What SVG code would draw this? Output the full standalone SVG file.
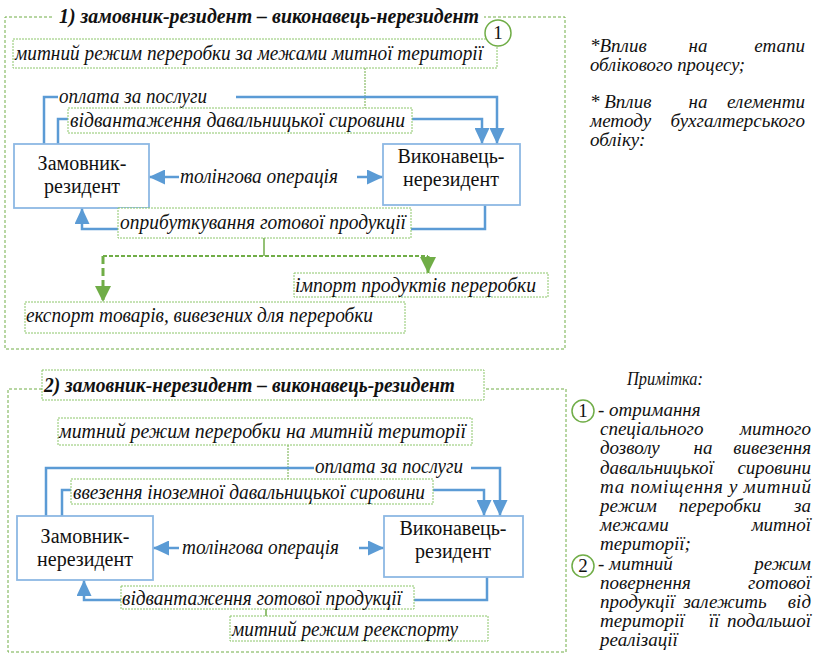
<svg xmlns="http://www.w3.org/2000/svg" width="813" height="654" viewBox="0 0 813 654" font-family="'Liberation Serif', 'DejaVu Serif', serif">
  <defs>
    <marker id="arr" viewBox="0 0 16 15" refX="16" refY="7.5" markerWidth="16" markerHeight="15" markerUnits="userSpaceOnUse" orient="auto">
      <path d="M0,0 L16,7.5 L0,15 Z" fill="#5B9BD5"/>
    </marker>
    <marker id="garr" viewBox="0 0 16 16" refX="16" refY="8" markerWidth="16" markerHeight="16" markerUnits="userSpaceOnUse" orient="auto">
      <path d="M0,0 L16,8 L0,16 Z" fill="#70AD47"/>
    </marker>
  </defs>
  <style>
    text { font-family: 'Liberation Serif', 'DejaVu Serif', serif; fill: #111; }
    .lbl { font-style: italic; font-size: 20px; }
    .ttl { font-style: italic; font-weight: bold; font-size: 20px; }
    .node { font-size: 20px; text-anchor: middle; }
    .note { font-style: italic; font-size: 19px; }
    .mid { text-anchor: middle; }
    .end { text-anchor: end; }
    .frame { fill: none; stroke: #70AD47; stroke-width: 1; stroke-dasharray: 3 2; }
    .lbox { fill: #fff; stroke: #8CC66A; stroke-width: 1; stroke-dasharray: 2 1; }
    .nbox { fill: #fff; stroke: #8DB8E4; stroke-width: 1.8; }
    .flow { fill: none; stroke: #5B9BD5; stroke-width: 2.5; }
    .glink { fill: none; stroke: #70AD47; stroke-width: 1; stroke-dasharray: 2 1; }
    .gsolid { fill: none; stroke: #70AD47; stroke-width: 1.5; }
    .ghor { fill: none; stroke: #70AD47; stroke-width: 2; stroke-dasharray: 4 2; }
    .gdash { fill: none; stroke: #70AD47; stroke-width: 3; stroke-dasharray: 8 4; }
    .num { fill: #fff; stroke: #70AD47; stroke-width: 1.5; }
    .numt { font-size: 19px; text-anchor: middle; }
  </style>

  <!-- ===== Scheme 1: resident customer, non-resident contractor ===== -->
  <path class="frame" d="M52,17 H5 V349 H565 V17 H484"/>
  <g id="title1">
    <text class="ttl" x="59" y="23" textLength="420" lengthAdjust="spacingAndGlyphs">1) замовник-резидент – виконавець-нерезидент</text>
  </g>

  <g id="connectors1">
    <path class="glink" d="M365,68 V108"/>
    <!-- payment for services -->
    <path class="flow" d="M44,144 V97 H58"/>
    <path class="flow" d="M236,97 H497 V144" marker-end="url(#arr)"/>
    <!-- raw material shipment -->
    <path class="flow" d="M58,144 V119 H68"/>
    <path class="flow" d="M412,119 H482 V144" marker-end="url(#arr)"/>
    <!-- tolling operation -->
    <path class="flow" d="M179,177 H149" marker-end="url(#arr)"/>
    <path class="flow" d="M357,177 H383" marker-end="url(#arr)"/>
    <!-- finished goods return -->
    <path class="flow" d="M485,205 V229 H411"/>
    <path class="flow" d="M118,229 H82 V208" marker-end="url(#arr)"/>
    <!-- customs regimes -->
    <path class="gsolid" d="M264,238 V256"/>
    <path class="ghor" d="M103,256 H428"/>
    <path class="gdash" d="M103,256 V302" marker-end="url(#garr)"/>
    <path class="gdash" d="M428,256 V273" marker-end="url(#garr)"/>
  </g>

  <g id="regime-outward">
    <rect class="lbox" x="13" y="39" width="484" height="29"/>
    <text class="lbl" x="15" y="60" textLength="468" lengthAdjust="spacingAndGlyphs">митний режим переробки за межами митної території</text>
  </g>
  <g id="mark1">
    <circle class="num" cx="498" cy="33" r="13"/>
    <text class="numt" x="498" y="39">1</text>
  </g>
  <g id="payment1">
    <text class="lbl" x="59" y="103" textLength="148" lengthAdjust="spacingAndGlyphs">оплата за послуги</text>
  </g>
  <g id="shipment1">
    <rect class="lbox" x="68" y="108" width="344" height="25"/>
    <text class="lbl" x="70" y="127" textLength="335" lengthAdjust="spacingAndGlyphs">відвантаження давальницької сировини</text>
  </g>
  <g id="customer-resident">
    <rect class="nbox" x="14" y="144" width="135" height="64"/>
    <text class="node" x="82" y="170">Замовник-</text>
    <text class="node" x="82" y="193">резидент</text>
  </g>
  <g id="contractor-nonresident">
    <rect class="nbox" x="383" y="144" width="137" height="61"/>
    <text class="node" x="451" y="163">Виконавець-</text>
    <text class="node" x="451" y="186">нерезидент</text>
  </g>
  <g id="tolling1">
    <text class="lbl" x="180" y="183" textLength="158" lengthAdjust="spacingAndGlyphs">толінгова операція</text>
  </g>
  <g id="receipt1">
    <rect class="lbox" x="118" y="208" width="293" height="30"/>
    <text class="lbl" x="120" y="229" textLength="286" lengthAdjust="spacingAndGlyphs">оприбуткування готової продукції</text>
  </g>
  <g id="import1">
    <rect class="lbox" x="294" y="273" width="254" height="24"/>
    <text class="lbl" x="295" y="292" textLength="241" lengthAdjust="spacingAndGlyphs">імпорт продуктів переробки</text>
  </g>
  <g id="export1">
    <rect class="lbox" x="25" y="302" width="380" height="31"/>
    <text class="lbl" x="26" y="322" textLength="347" lengthAdjust="spacingAndGlyphs">експорт товарів, вивезених для переробки</text>
  </g>

  <!-- side remarks -->
  <g id="remarks">
    <text class="note" x="590" y="52">*Вплив</text>
    <text class="note mid" x="698" y="52">на</text>
    <text class="note end" x="805" y="52">етапи</text>
    <text class="note" x="590" y="71" textLength="155" lengthAdjust="spacingAndGlyphs">облікового процесу;</text>
    <text class="note" x="590" y="108">* Вплив</text>
    <text class="note mid" x="698" y="108">на</text>
    <text class="note end" x="805" y="108">елементи</text>
    <text class="note" x="590" y="127">методу</text>
    <text class="note end" x="805" y="127">бухгалтерського</text>
    <text class="note" x="590" y="146">обліку:</text>
  </g>

  <!-- ===== Scheme 2: non-resident customer, resident contractor ===== -->
  <path class="frame" d="M42,389 H8 V652 H566 V389 H484"/>
  <g id="title2">
    <rect class="lbox" x="42" y="370" width="442" height="30"/>
    <text class="ttl" x="44" y="392" textLength="411" lengthAdjust="spacingAndGlyphs">2) замовник-нерезидент – виконавець-резидент</text>
  </g>

  <g id="connectors2">
    <path class="glink" d="M288,445 V479"/>
    <path class="flow" d="M46,516 V468 H314"/>
    <path class="flow" d="M471,468 H500 V516" marker-end="url(#arr)"/>
    <path class="flow" d="M62,516 V490 H71"/>
    <path class="flow" d="M433,490 H484 V516" marker-end="url(#arr)"/>
    <path class="flow" d="M179,548 H153" marker-end="url(#arr)"/>
    <path class="flow" d="M359,548 H384" marker-end="url(#arr)"/>
    <path class="flow" d="M487,577 V600 H414"/>
    <path class="flow" d="M121,600 H84 V580" marker-end="url(#arr)"/>
    <path class="gsolid" d="M266,609 V616"/>
  </g>

  <g id="regime-inward">
    <rect class="lbox" x="58" y="418" width="414" height="27"/>
    <text class="lbl" x="59" y="438" textLength="407" lengthAdjust="spacingAndGlyphs">митний режим переробки на митній території</text>
  </g>
  <g id="payment2">
    <text class="lbl" x="315" y="473" textLength="148" lengthAdjust="spacingAndGlyphs">оплата за послуги</text>
  </g>
  <g id="import-raw2">
    <rect class="lbox" x="71" y="479" width="362" height="25"/>
    <text class="lbl" x="73" y="499" textLength="352" lengthAdjust="spacingAndGlyphs">ввезення іноземної давальницької сировини</text>
  </g>
  <g id="customer-nonresident">
    <rect class="nbox" x="17" y="516" width="136" height="64"/>
    <text class="node" x="85" y="543">Замовник-</text>
    <text class="node" x="85" y="566">нерезидент</text>
  </g>
  <g id="contractor-resident">
    <rect class="nbox" x="384" y="516" width="139" height="61"/>
    <text class="node" x="453" y="535">Виконавець-</text>
    <text class="node" x="453" y="558">резидент</text>
  </g>
  <g id="tolling2">
    <text class="lbl" x="182" y="554" textLength="157" lengthAdjust="spacingAndGlyphs">толінгова операція</text>
  </g>
  <g id="shipment2">
    <rect class="lbox" x="121" y="586" width="293" height="23"/>
    <text class="lbl" x="122" y="605" textLength="280" lengthAdjust="spacingAndGlyphs">відвантаження готової продукції</text>
  </g>
  <g id="reexport2">
    <rect class="lbox" x="230" y="616" width="258" height="25"/>
    <text class="lbl" x="232" y="636" textLength="226" lengthAdjust="spacingAndGlyphs">митний режим реекспорту</text>
  </g>

  <!-- footnote -->
  <g id="footnote">
    <text class="note" x="627" y="385" textLength="76" lengthAdjust="spacingAndGlyphs">Примітка:</text>
    <circle class="num" cx="583" cy="411" r="11"/>
    <text class="numt" x="583" y="417">1</text>
    <text class="note" x="598" y="416">- отримання</text>
    <text class="note" x="600" y="435">спеціального</text>
    <text class="note end" x="811" y="435">митного</text>
    <text class="note" x="600" y="454">дозволу</text>
    <text class="note mid" x="703" y="454">на</text>
    <text class="note end" x="811" y="454">вивезення</text>
    <text class="note" x="600" y="474">давальницької</text>
    <text class="note end" x="811" y="474">сировини</text>
    <text class="note" x="600" y="493" textLength="211" lengthAdjust="spacing">та поміщення у митний</text>
    <text class="note" x="600" y="512">режим</text>
    <text class="note mid" x="720" y="512">переробки</text>
    <text class="note end" x="811" y="512">за</text>
    <text class="note" x="600" y="531">межами</text>
    <text class="note end" x="811" y="531">митної</text>
    <text class="note" x="600" y="550">території;</text>
    <circle class="num" cx="583" cy="566" r="11"/>
    <text class="numt" x="583" y="572">2</text>
    <text class="note" x="598" y="570">- митний</text>
    <text class="note end" x="811" y="570">режим</text>
    <text class="note" x="600" y="589">повернення</text>
    <text class="note end" x="811" y="589">готової</text>
    <text class="note" x="600" y="608">продукції</text>
    <text class="note mid" x="725" y="608">залежить</text>
    <text class="note end" x="811" y="608">від</text>
    <text class="note" x="600" y="627">території</text>
    <text class="note mid" x="714" y="627">її</text>
    <text class="note end" x="811" y="627">подальшої</text>
    <text class="note" x="600" y="646">реалізації</text>
  </g>
</svg>
